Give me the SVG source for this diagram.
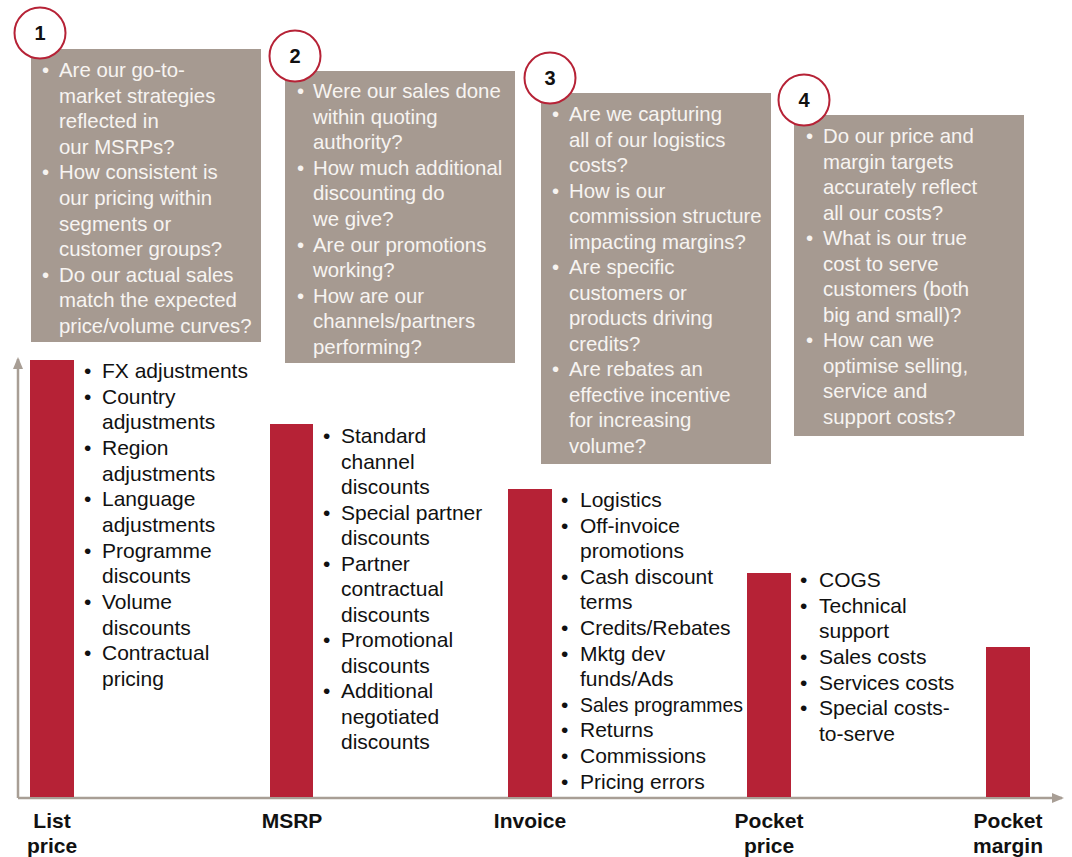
<svg xmlns="http://www.w3.org/2000/svg" width="1072" height="857" viewBox="0 0 1072 857">
<defs>
<style>
.box{fill:#a69a91}
.bar{fill:#b62236}
.circ{fill:#ffffff;stroke:#b62236;stroke-width:2}
.num{font-family:"Liberation Sans",Arial,sans-serif;font-weight:bold;font-size:20px;fill:#111;text-anchor:middle}
.q{font-family:"Liberation Sans",Arial,sans-serif;font-size:20.4px;fill:#f7f4f1}
.l{font-family:"Liberation Sans",Arial,sans-serif;font-size:21px;fill:#111}
.lab{font-family:"Liberation Sans",Arial,sans-serif;font-weight:bold;font-size:21px;fill:#111;text-anchor:middle}
.axis{stroke:#a89e95;stroke-width:2.5;fill:none}
</style>
<marker id="ah" viewBox="0 0 12 10" refX="10" refY="5" markerWidth="12" markerHeight="10" markerUnits="userSpaceOnUse" orient="auto">
<path d="M0,0 L12,5 L0,10 Z" fill="#a89e95"/>
</marker>
</defs>

<g id="connectors">
<path class="axis" d="M18,798 L18,359" marker-end="url(#ah)"/>
<path class="axis" d="M18,798 L1062,798" marker-end="url(#ah)"/>
</g>

<g id="bar-list-price">
<rect class="bar" x="30" y="360" width="44" height="437"/>
<text class="lab" x="52" y="828">List</text>
<text class="lab" x="52" y="853">price</text>
</g>
<g id="bar-msrp">
<rect class="bar" x="270" y="424" width="43" height="373"/>
<text class="lab" x="292" y="828">MSRP</text>
</g>
<g id="bar-invoice">
<rect class="bar" x="508" y="489" width="44" height="308"/>
<text class="lab" x="530" y="828">Invoice</text>
</g>
<g id="bar-pocket-price">
<rect class="bar" x="747" y="573" width="44" height="224"/>
<text class="lab" x="769" y="828">Pocket</text>
<text class="lab" x="769" y="853">price</text>
</g>
<g id="bar-pocket-margin">
<rect class="bar" x="986" y="647" width="44" height="150"/>
<text class="lab" x="1008" y="828">Pocket</text>
<text class="lab" x="1008" y="853">margin</text>
</g>

<g id="list-1">
<text class="l">
<tspan x="84" y="378">•</tspan><tspan x="102" y="378">FX adjustments</tspan>
<tspan x="84" y="403.7">•</tspan><tspan x="102" y="403.7">Country</tspan>
<tspan x="102" y="429.3">adjustments</tspan>
<tspan x="84" y="455">•</tspan><tspan x="102" y="455">Region</tspan>
<tspan x="102" y="480.7">adjustments</tspan>
<tspan x="84" y="506.3">•</tspan><tspan x="102" y="506.3">Language</tspan>
<tspan x="102" y="532">adjustments</tspan>
<tspan x="84" y="557.7">•</tspan><tspan x="102" y="557.7">Programme</tspan>
<tspan x="102" y="583.3">discounts</tspan>
<tspan x="84" y="609">•</tspan><tspan x="102" y="609">Volume</tspan>
<tspan x="102" y="634.7">discounts</tspan>
<tspan x="84" y="660.3">•</tspan><tspan x="102" y="660.3">Contractual</tspan>
<tspan x="102" y="686">pricing</tspan>
</text>
</g>

<g id="list-2">
<text class="l">
<tspan x="323" y="443">•</tspan><tspan x="341" y="443">Standard</tspan>
<tspan x="341" y="468.5">channel</tspan>
<tspan x="341" y="494">discounts</tspan>
<tspan x="323" y="519.5">•</tspan><tspan x="341" y="519.5">Special partner</tspan>
<tspan x="341" y="545">discounts</tspan>
<tspan x="323" y="570.5">•</tspan><tspan x="341" y="570.5">Partner</tspan>
<tspan x="341" y="596">contractual</tspan>
<tspan x="341" y="621.5">discounts</tspan>
<tspan x="323" y="647">•</tspan><tspan x="341" y="647">Promotional</tspan>
<tspan x="341" y="672.5">discounts</tspan>
<tspan x="323" y="698">•</tspan><tspan x="341" y="698">Additional</tspan>
<tspan x="341" y="723.5">negotiated</tspan>
<tspan x="341" y="749">discounts</tspan>
</text>
</g>

<g id="list-3">
<text class="l">
<tspan x="561" y="507">•</tspan><tspan x="580" y="507">Logistics</tspan>
<tspan x="561" y="532.6">•</tspan><tspan x="580" y="532.6">Off-invoice</tspan>
<tspan x="580" y="558.2">promotions</tspan>
<tspan x="561" y="583.8">•</tspan><tspan x="580" y="583.8">Cash discount</tspan>
<tspan x="580" y="609.4">terms</tspan>
<tspan x="561" y="635">•</tspan><tspan x="580" y="635">Credits/Rebates</tspan>
<tspan x="561" y="660.6">•</tspan><tspan x="580" y="660.6">Mktg dev</tspan>
<tspan x="580" y="686.2">funds/Ads</tspan>
<tspan x="561" y="711.8">•</tspan>
<tspan x="561" y="737.4">•</tspan><tspan x="580" y="737.4">Returns</tspan>
<tspan x="561" y="763">•</tspan><tspan x="580" y="763">Commissions</tspan>
<tspan x="561" y="788.6">•</tspan><tspan x="580" y="788.6">Pricing errors</tspan>
</text>
<text class="l" x="580" y="711.8" textLength="163" lengthAdjust="spacingAndGlyphs">Sales programmes</text>
</g>

<g id="list-4">
<text class="l">
<tspan x="800" y="587">•</tspan><tspan x="819" y="587">COGS</tspan>
<tspan x="800" y="612.7">•</tspan><tspan x="819" y="612.7">Technical</tspan>
<tspan x="819" y="638.3">support</tspan>
<tspan x="800" y="664">•</tspan><tspan x="819" y="664">Sales costs</tspan>
<tspan x="800" y="689.7">•</tspan><tspan x="819" y="689.7">Services costs</tspan>
<tspan x="800" y="715.3">•</tspan><tspan x="819" y="715.3">Special costs-</tspan>
<tspan x="819" y="741">to-serve</tspan>
</text>
</g>

<g id="box-1">
<rect class="box" x="31" y="49" width="230" height="293"/>
<text class="q">
<tspan x="42" y="77">•</tspan><tspan x="59" y="77">Are our go-to-</tspan>
<tspan x="59" y="102.6">market strategies</tspan>
<tspan x="59" y="128.2">reflected in</tspan>
<tspan x="59" y="153.8">our MSRPs?</tspan>
<tspan x="42" y="179.4">•</tspan><tspan x="59" y="179.4">How consistent is</tspan>
<tspan x="59" y="205">our pricing within</tspan>
<tspan x="59" y="230.6">segments or</tspan>
<tspan x="59" y="256.2">customer groups?</tspan>
<tspan x="42" y="281.8">•</tspan><tspan x="59" y="281.8">Do our actual sales</tspan>
<tspan x="59" y="307.4">match the expected</tspan>
<tspan x="59" y="333">price/volume curves?</tspan>
</text>
</g>

<g id="box-2">
<rect class="box" x="285" y="71" width="230" height="292"/>
<text class="q">
<tspan x="297" y="98">•</tspan><tspan x="313" y="98">Were our sales done</tspan>
<tspan x="313" y="123.6">within quoting</tspan>
<tspan x="313" y="149.2">authority?</tspan>
<tspan x="297" y="174.8">•</tspan><tspan x="313" y="174.8">How much additional</tspan>
<tspan x="313" y="200.4">discounting do</tspan>
<tspan x="313" y="226">we give?</tspan>
<tspan x="297" y="251.6">•</tspan><tspan x="313" y="251.6">Are our promotions</tspan>
<tspan x="313" y="277.2">working?</tspan>
<tspan x="297" y="302.8">•</tspan><tspan x="313" y="302.8">How are our</tspan>
<tspan x="313" y="328.4">channels/partners</tspan>
<tspan x="313" y="354">performing?</tspan>
</text>
</g>

<g id="box-3">
<rect class="box" x="541" y="93" width="230" height="371"/>
<text class="q">
<tspan x="552" y="121">•</tspan><tspan x="569" y="121">Are we capturing</tspan>
<tspan x="569" y="146.5">all of our logistics</tspan>
<tspan x="569" y="172">costs?</tspan>
<tspan x="552" y="197.5">•</tspan><tspan x="569" y="197.5">How is our</tspan>
<tspan x="569" y="223">commission structure</tspan>
<tspan x="569" y="248.5">impacting margins?</tspan>
<tspan x="552" y="274">•</tspan><tspan x="569" y="274">Are specific</tspan>
<tspan x="569" y="299.5">customers or</tspan>
<tspan x="569" y="325">products driving</tspan>
<tspan x="569" y="350.5">credits?</tspan>
<tspan x="552" y="376">•</tspan><tspan x="569" y="376">Are rebates an</tspan>
<tspan x="569" y="401.5">effective incentive</tspan>
<tspan x="569" y="427">for increasing</tspan>
<tspan x="569" y="452.5">volume?</tspan>
</text>
</g>

<g id="box-4">
<rect class="box" x="794" y="115" width="230" height="321"/>
<text class="q">
<tspan x="806" y="143">•</tspan><tspan x="823" y="143">Do our price and</tspan>
<tspan x="823" y="168.5">margin targets</tspan>
<tspan x="823" y="194">accurately reflect</tspan>
<tspan x="823" y="219.5">all our costs?</tspan>
<tspan x="806" y="245">•</tspan><tspan x="823" y="245">What is our true</tspan>
<tspan x="823" y="270.5">cost to serve</tspan>
<tspan x="823" y="296">customers (both</tspan>
<tspan x="823" y="321.5">big and small)?</tspan>
<tspan x="806" y="347">•</tspan><tspan x="823" y="347">How can we</tspan>
<tspan x="823" y="372.5">optimise selling,</tspan>
<tspan x="823" y="398">service and</tspan>
<tspan x="823" y="423.5">support costs?</tspan>
</text>
</g>

<g id="badge-1">
<circle class="circ" cx="40" cy="33" r="25.5"/>
<text class="num" x="40" y="40">1</text>
</g>
<g id="badge-2">
<circle class="circ" cx="295" cy="56" r="25.5"/>
<text class="num" x="295" y="63">2</text>
</g>
<g id="badge-3">
<circle class="circ" cx="550" cy="78" r="25.5"/>
<text class="num" x="550" y="85">3</text>
</g>
<g id="badge-4">
<circle class="circ" cx="804" cy="100" r="25.5"/>
<text class="num" x="804" y="107">4</text>
</g>
</svg>
